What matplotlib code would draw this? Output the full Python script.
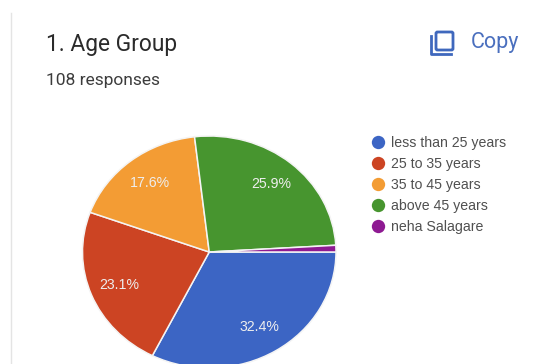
import matplotlib
matplotlib.use("Agg")
import matplotlib.pyplot as plt
from matplotlib.lines import Line2D
from matplotlib.patches import FancyBboxPatch

W, H = 552, 364

categories = ["less than 25 years", "25 to 35 years", "35 to 45 years", "above 45 years", "neha Salagare"]
counts = [35, 25, 19, 28, 1]
colors = ["#3c65c4", "#cc4423", "#f39c34", "#47952f", "#8e1a92"]
title = "1. Age Group"
subtitle = "108 responses"
copy_label = "Copy"

fig = plt.figure(figsize=(W / 100, H / 100), dpi=100, facecolor="white")

# overlay in pixel coordinates for the card text and icon
bg = fig.add_axes([0, 0, 1, 1])
bg.set_xlim(0, W)
bg.set_ylim(H, 0)
bg.axis("off")

bg.plot([11, 11], [13, H], color="#e4e4e4", lw=1)
bg.text(46, 44, title, family="Roboto", fontsize=16.4, color="#2b2b2b", va="center")
bg.text(46, 81, subtitle, family="Roboto", fontsize=12.5, color="#3c3c3c", va="center")
bg.text(471, 42.5, copy_label, family="Roboto", fontsize=15.5, color="#4a6fbe", va="center")

# copy icon
icon = "#3f68bd"
bg.add_patch(FancyBboxPatch((436, 32), 17, 18, boxstyle="round,pad=0,rounding_size=1.5",
                            fc="none", ec=icon, lw=2))
bg.plot([431, 431, 451], [36, 54, 54], color=icon, lw=2, solid_joinstyle="round")

# the pie is stretched, wider than tall, and runs off the bottom edge
left, right, top, bottom = 82.5, 336, 136, 368
ax = fig.add_axes([left / W, 1 - bottom / H, (right - left) / W, (bottom - top) / H])
ax.patch.set_alpha(0)


def fmt(p):
    return f"{p:.1f}%" if p > 5 else ""


wedges, _, autotexts = ax.pie(counts, colors=colors, startangle=0, counterclock=False,
                              radius=1, autopct=fmt, pctdistance=0.76,
                              wedgeprops={"edgecolor": "#f4f4f4", "linewidth": 1.1},
                              textprops={"family": "Liberation Sans", "fontsize": 10.2, "color": "#eeeeee"})
ax.set_aspect("auto")
ax.set_xlim(-1, 1)
ax.set_ylim(-1, 1)
for w in wedges:
    w.set_clip_on(False)

handles = [Line2D([], [], ls="none", marker="o", ms=9.6, color=c, mew=0) for c in colors]
fig.legend(handles, categories, loc="upper left", bbox_to_anchor=(367 / W, 1 - 136 / H),
           frameon=False, prop={"family": "Liberation Sans", "size": 10.2}, labelcolor="#505050",
           labelspacing=0.5, handletextpad=0.1, handlelength=1.6, borderpad=0, borderaxespad=0)

fig.savefig("out.png", dpi=100)
